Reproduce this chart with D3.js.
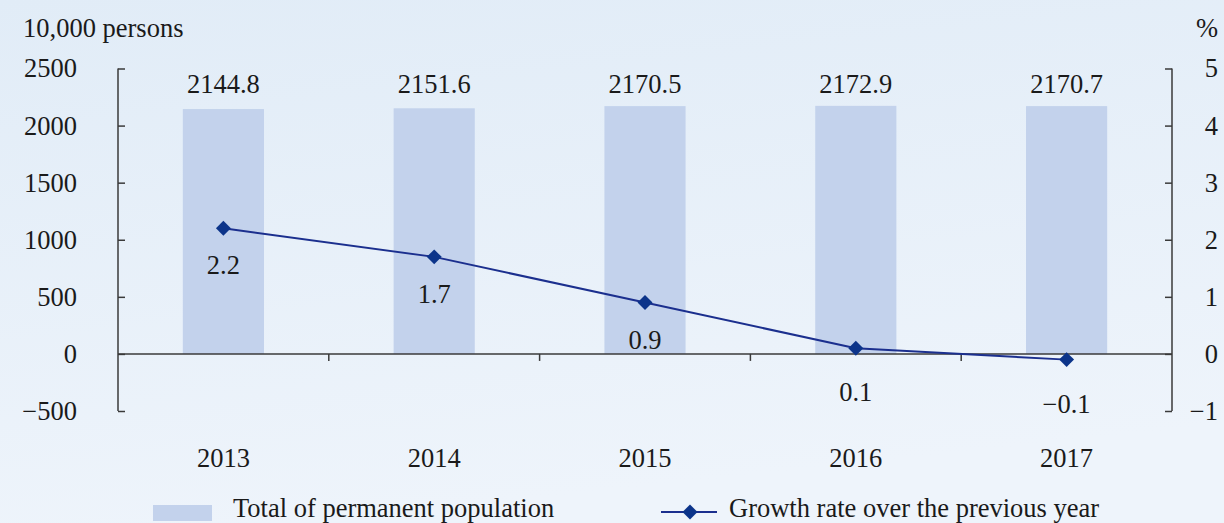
<!DOCTYPE html>
<html>
<head>
<meta charset="utf-8">
<script src="https://cdn.jsdelivr.net/npm/d3@7/dist/d3.min.js"></script>
<style>
  html, body { margin: 0; padding: 0; }
  body { width: 1224px; height: 523px; overflow: hidden; }
  text { font-family: "Liberation Serif", "DejaVu Serif", serif; fill: #1a1a1a; }
</style>
</head>
<body>
<svg id="chart" width="1224" height="523"></svg>
<script>
// Permanent resident population and its growth rate, 2013–2017
const years = ["2013", "2014", "2015", "2016", "2017"];
const population = [2144.8, 2151.6, 2170.5, 2172.9, 2170.7];   // 10,000 persons
const growthRate = [2.2, 1.7, 0.9, 0.1, -0.1];                 // %
const leftTicks = [-500, 0, 500, 1000, 1500, 2000, 2500];
const rightTicks = [-1, 0, 1, 2, 3, 4, 5];
const legendLabels = ["Total of permanent population", "Growth rate over the previous year"];

const W = 1224, H = 523;
const plot = { left: 118, right: 1172, top: 68.5, bottom: 411 };

const barColor = "#c3d2ec";
const lineColor = "#1b2f8e";
const markColor = "#0c348a";
const axisColor = "#3a3a3a";
const fontSize = 26.5;

const svg = d3.select("#chart");

// background wash
const defs = svg.append("defs");
const grad = defs.append("linearGradient").attr("id", "bg")
  .attr("x1", 0).attr("y1", 0).attr("x2", 0.25).attr("y2", 1);
grad.append("stop").attr("offset", "0%").attr("stop-color", "#e1ecf7");
grad.append("stop").attr("offset", "100%").attr("stop-color", "#eef4fb");
svg.append("rect").attr("width", W).attr("height", H).attr("fill", "url(#bg)");

const x = d3.scaleBand().domain(years).range([plot.left, plot.right])
  .paddingInner(0.615).paddingOuter(0.3075);
const yL = d3.scaleLinear().domain([-500, 2500]).range([plot.bottom, plot.top]);
const yR = d3.scaleLinear().domain([-1, 5]).range([plot.bottom, plot.top]);
const cx = d => x(d) + x.bandwidth() / 2;
const fmtSigned = f => d => f(d).replace("-", "\u2212");

// bars
svg.append("g").selectAll("rect").data(years).join("rect")
  .attr("x", d => x(d))
  .attr("width", x.bandwidth())
  .attr("y", (d, i) => yL(population[i]))
  .attr("height", (d, i) => yL(0) - yL(population[i]))
  .attr("fill", barColor);

// bar value labels, on a common line above the bars
svg.append("g").selectAll("text").data(years).join("text")
  .attr("x", d => cx(d))
  .attr("y", yL(2500) + 24.5)
  .attr("text-anchor", "middle")
  .attr("font-size", fontSize)
  .text((d, i) => population[i].toFixed(1));

// left axis
const leftAxis = d3.axisLeft(yL).tickValues(leftTicks).tickSize(-7).tickPadding(0)
  .tickFormat(fmtSigned(d3.format("")));
const gL = svg.append("g").attr("transform", `translate(${plot.left},0)`).call(leftAxis);
gL.select(".domain").remove();
gL.append("line").attr("x1", 0).attr("x2", 0).attr("y1", plot.top).attr("y2", plot.bottom)
  .attr("stroke", axisColor).attr("stroke-width", 1.5);
gL.selectAll(".tick line").attr("stroke", axisColor).attr("stroke-width", 1.5);
gL.selectAll(".tick text").attr("x", -41).attr("font-size", fontSize)
  .attr("font-family", "Liberation Serif, serif").attr("fill", "#1a1a1a");

// right axis
const rightAxis = d3.axisRight(yR).tickValues(rightTicks).tickSize(-7).tickPadding(0)
  .tickFormat(fmtSigned(d3.format("")));
const gR = svg.append("g").attr("transform", `translate(${plot.right},0)`).call(rightAxis);
gR.select(".domain").remove();
gR.append("line").attr("x1", 0).attr("x2", 0).attr("y1", plot.top).attr("y2", plot.bottom)
  .attr("stroke", axisColor).attr("stroke-width", 1.5);
gR.selectAll(".tick line").attr("stroke", axisColor).attr("stroke-width", 1.5);
gR.selectAll(".tick text").attr("x", 46).attr("text-anchor", "end").attr("font-size", fontSize)
  .attr("font-family", "Liberation Serif, serif").attr("fill", "#1a1a1a");

// zero baseline with category separators
const y0 = yL(0);
svg.append("line").attr("x1", plot.left).attr("x2", plot.right).attr("y1", y0).attr("y2", y0)
  .attr("stroke", axisColor).attr("stroke-width", 1.5);
svg.append("g").selectAll("line").data(years.slice(1)).join("line")
  .attr("x1", d => x(d) - x.step() * x.paddingInner() / 2)
  .attr("x2", d => x(d) - x.step() * x.paddingInner() / 2)
  .attr("y1", y0).attr("y2", y0 + 7)
  .attr("stroke", axisColor).attr("stroke-width", 1.5);

// year labels
svg.append("g").selectAll("text").data(years).join("text")
  .attr("x", d => cx(d)).attr("y", 467)
  .attr("text-anchor", "middle").attr("font-size", fontSize)
  .text(d => d);

// unit labels
svg.append("text").attr("x", 23).attr("y", 37).attr("font-size", fontSize).text("10,000 persons");
svg.append("text").attr("x", 1218).attr("y", 37).attr("text-anchor", "end").attr("font-size", fontSize).text("%");

// growth rate line
const line = d3.line().x(d => cx(d)).y((d, i) => yR(growthRate[i]));
svg.append("path").datum(years).attr("d", line)
  .attr("fill", "none").attr("stroke", lineColor).attr("stroke-width", 2);

const diamond = d3.symbol().type(d3.symbolSquare).size(112);
svg.append("g").selectAll("path").data(years).join("path")
  .attr("d", diamond)
  .attr("transform", (d, i) => `translate(${cx(d)},${yR(growthRate[i])}) rotate(45)`)
  .attr("fill", markColor);

// growth rate labels below the points; points near the baseline get extra room
svg.append("g").selectAll("text").data(years).join("text")
  .attr("x", d => cx(d))
  .attr("y", (d, i) => yR(growthRate[i]) + (growthRate[i] < 0.5 ? 53 : 46))
  .attr("text-anchor", "middle").attr("font-size", fontSize)
  .text((d, i) => fmtSigned(d3.format(".1f"))(growthRate[i]));

// legend
const ly = 512;
svg.append("rect").attr("x", 153).attr("y", ly - 7).attr("width", 59).attr("height", 16).attr("fill", barColor);
svg.append("text").attr("x", 233).attr("y", ly + 5).attr("font-size", fontSize).text(legendLabels[0]);
svg.append("line").attr("x1", 661).attr("x2", 717).attr("y1", ly).attr("y2", ly)
  .attr("stroke", lineColor).attr("stroke-width", 2);
svg.append("path").attr("d", diamond).attr("transform", `translate(690,${ly}) rotate(45)`).attr("fill", markColor);
svg.append("text").attr("x", 729).attr("y", ly + 5).attr("font-size", fontSize).text(legendLabels[1]);
</script>
</body>
</html>
